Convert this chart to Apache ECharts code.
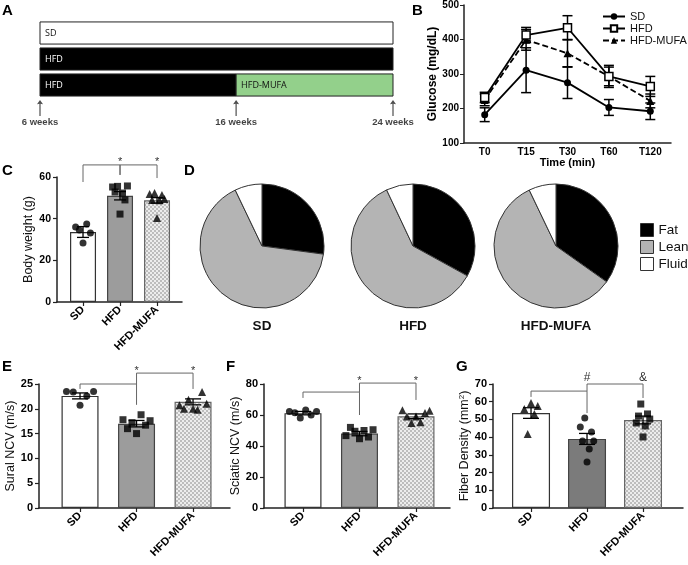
<!DOCTYPE html>
<html><head><meta charset="utf-8">
<script src="https://cdn.jsdelivr.net/npm/echarts@6/dist/echarts.min.js"></script>
<style>html,body{margin:0;padding:0;background:#fff}#c{width:688px;height:565px}</style>
</head><body><div id="c"></div>
<script>
// ---------- DATA ----------
// Panel A: diet timeline
const timelineRows = [' ', 'HFD-MUFA', 'HFD', 'SD'];
const timelineSegments = [ // [row, fromWeek, toWeek, diet]
  ['SD', 6, 24, 'SD'],
  ['HFD', 6, 24, 'HFD'],
  ['HFD-MUFA', 6, 16, 'HFD'],
  ['HFD-MUFA', 16, 24, 'HFD-MUFA']
];
const weekMarks = [6, 16, 24];
const weekLabels = ['6 weeks', '16 weeks', '24 weeks'];

// Panel B: glucose tolerance
const times = ['T0', 'T15', 'T30', 'T60', 'T120'];
const glucoseSD = [182, 311, 275, 203, 192];
const glucoseSDErr = [20, 65, 46, 23, 24];
const glucoseHFD = [232, 413, 434, 293, 264];
const glucoseHFDErr = [15, 22, 35, 32, 29];
const glucoseMUFA = [225, 399, 360, 293, 222];
const glucoseMUFAErr = [17, 30, 40, 27, 20];

const groups = ['SD', 'HFD', 'HFD-MUFA'];

// Panel C: body weight
const bwMean = [33.6, 51.0, 48.8];
const bwSem = [2.6, 2.0, 1.3];
const bwSD = [36, 34.6, 28.3, 37.4, 33.1];
const bwHFD = [55.2, 52.8, 55.5, 42.2, 52.3, 49, 55.7];
const bwMUFA = [51.8, 49, 52.3, 40.3, 48.8, 51.4, 49.5];

// Panel D: body composition (%)
const compLabels = ['Fat', 'Lean', 'Fluid'];
const compSD = [27.1, 65.8, 7.1];
const compHFD = [33.0, 60.0, 7.0];
const compMUFA = [34.8, 58.1, 7.1];

// Panel E: sural NCV
const suralMean = [22.6, 17.0, 21.4];
const suralSem = [0.6, 0.65, 0.6];
const suralSD = [23.5, 23.4, 20.7, 22.6, 23.5];
const suralHFD = [17.8, 16.0, 17.2, 15.0, 18.8, 16.7, 17.6];
const suralMUFA = [20.7, 20.0, 21.8, 20.0, 19.8, 23.4, 21.0];

// Panel F: sciatic NCV
const sciaticMean = [61.2, 48.0, 59.2];
const sciaticSem = [1.1, 1.4, 1.5];
const sciaticSD = [62.3, 61.5, 58.0, 63.3, 60.0, 62.3];
const sciaticHFD = [46.7, 52, 49.5, 44.7, 50, 45.8, 50.5];
const sciaticMUFA = [63, 59.1, 54.8, 59, 55.3, 61.3, 62.8];

// Panel G: fiber density
const fiberMean = [53.6, 39.0, 49.7];
const fiberSem = [3.0, 3.1, 2.2];
const fiberSD = [55.9, 41.8, 59.3, 53.1, 57.6];
const fiberHFD = [45.7, 37.8, 50.8, 26, 33.3, 42.9, 37.8];
const fiberMUFA = [48, 51.9, 58.7, 40.1, 46.3, 53.1, 50.2];

// Significance brackets: [fromGroup, toGroup, level, leftEnd, rightEnd]
const sigC = [[0, 1, 65.8, 57.6, 61], [1, 2, 65.8, 61, 59.5]];
const sigCMarks = [[1, 65.8, '*'], [2, 65.8, '*']];
const sigE = [[0, 1, 25.0, 24.0, 20.8], [1, 2, 27.2, 25.0, 24.0]];
const sigEMarks = [[1, 27.2, '*'], [2, 27.2, '*']];
const sigF = [[0, 1, 74.8, 71, 60], [1, 2, 80.6, 74.8, 69.7]];
const sigFMarks = [[1, 80.6, '*'], [2, 80.6, '*']];
const sigG = [[0, 1, 66, 62.7, 53.6], [1, 2, 70, 66, 62.1]];
const sigGMarks = [[1, 70, '#'], [2, 70, '&']];

// ---------- STYLE ----------
const FONT = '"Liberation Sans", Arial, sans-serif';
const AX = '#222';
const pc = document.createElement('canvas'); pc.width = 4; pc.height = 4;
const pg = pc.getContext('2d');
pg.fillStyle = '#ededed'; pg.fillRect(0, 0, 4, 4);
pg.fillStyle = '#bdbdbd'; pg.fillRect(0, 0, 2, 2); pg.fillRect(2, 2, 2, 2);
const checker = { image: pc, repeat: 'repeat' };
const dietFill = { 'SD': '#ffffff', 'HFD': '#000000', 'HFD-MUFA': '#93d08b' };
const dietText = { 'SD': '#111', 'HFD': '#fff', 'HFD-MUFA': '#111' };

// ---------- HELPERS ----------
function renderTimeline(params, api) {
  const row = api.value(0);
  const p1 = api.coord([api.value(1), row]);
  const p2 = api.coord([api.value(2), row]);
  const h = api.size([0, 1])[1] * 0.85;
  const diet = timelineSegments[params.dataIndex][3];
  return {
    type: 'group', children: [
      { type: 'rect', shape: { x: p1[0], y: p1[1] - h / 2, width: p2[0] - p1[0], height: h },
        style: { fill: dietFill[diet], stroke: '#222', lineWidth: 1 } },
      { type: 'text', style: { text: diet, x: p1[0] + 5, y: p1[1], verticalAlign: 'middle', align: 'left',
        fill: dietText[diet], font: '9px "Open Sans", sans-serif' } }
    ]
  };
}
function errRender(cap, lw) {
  return function (params, api) {
    const x = api.value(0);
    const a = api.coord([x, api.value(1)]);
    const b = api.coord([x, api.value(2)]);
    const st = { stroke: '#000', lineWidth: lw };
    return { type: 'group', children: [
      { type: 'line', shape: { x1: a[0], y1: a[1], x2: b[0], y2: b[1] }, style: st },
      { type: 'line', shape: { x1: a[0] - cap, y1: a[1], x2: a[0] + cap, y2: a[1] }, style: st },
      { type: 'line', shape: { x1: b[0] - cap, y1: b[1], x2: b[0] + cap, y2: b[1] }, style: st }
    ] };
  };
}
function bracketRender(params, api) {
  const x1 = api.value(0), x2 = api.value(1), lv = api.value(2);
  const p1 = api.coord([x1, lv]), p2 = api.coord([x2, lv]);
  const e1 = api.coord([x1, api.value(3)]), e2 = api.coord([x2, api.value(4)]);
  return { type: 'polyline', shape: { points: [e1, p1, p2, e2] },
    style: { stroke: '#666', lineWidth: 1, fill: null } };
}
function markRender(params, api) {
  const p = api.coord([api.value(0), api.value(1)]);
  const txt = api.value(2);
  const star = txt === '*';
  return { type: 'text', style: { text: txt, x: p[0], y: p[1] + (star ? 3 : 0), align: 'center', verticalAlign: 'bottom',
    fill: '#333', font: (star ? '11px ' : '12px ') + FONT } };
}
function jitter(vals, gi, spread) {
  const n = vals.length;
  return vals.map((v, j) => [gi + (n > 1 ? -spread + 2 * spread * j / (n - 1) : 0), v]);
}
function barX(gi, min, max) {
  return { gridIndex: gi, type: 'value', min: min, max: max,
    axisLine: { show: true, onZero: false, lineStyle: { color: AX, width: 1.5 } },
    axisTick: { show: true, customValues: [0, 1, 2], length: 4, lineStyle: { color: AX, width: 1.2 } },
    axisLabel: { customValues: [0, 1, 2], formatter: v => groups[Math.round(v)], rotate: 45, margin: 6,
      fontWeight: 'bold', fontSize: 11, color: '#000', fontFamily: FONT },
    splitLine: { show: false } };
}
function barY(gi, max, interval, name, gap, fs) {
  return { gridIndex: gi, type: 'value', min: 0, max: max, interval: interval,
    name: name, nameLocation: 'middle', nameGap: gap,
    nameTextStyle: { fontSize: 12.5, fontFamily: FONT, color: '#111',
      rich: { sup: { fontSize: 8, fontFamily: FONT, color: '#111', verticalAlign: 'top', padding: [0, 0, 5, 0] } } },
    axisLine: { show: true, onZero: false, lineStyle: { color: AX, width: 1.5 } },
    axisTick: { show: true, length: 4, lineStyle: { color: AX, width: 1.2 } },
    axisLabel: { fontWeight: 'bold', fontSize: fs, color: '#000', fontFamily: FONT, margin: 6 },
    splitLine: { show: false } };
}
function barPanel(gi, means, sem, sd, hfd, mufa, hfdColor, bw, cap, spread, sig, marks, sym) {
  const styles = [
    { color: '#fff', borderColor: '#333', borderWidth: 1.2 },
    { color: hfdColor, borderColor: '#444', borderWidth: 1.2 },
    { color: checker, borderColor: '#666', borderWidth: 1.2 }
  ];
  const ser = [];
  ser.push({ type: 'bar', name: 'bar' + gi, xAxisIndex: gi, yAxisIndex: gi, barWidth: bw, z: 2,
    data: means.map((m, i) => ({ value: [i, m], itemStyle: styles[i] })), silent: true });
  const pts = [sd, hfd, mufa];
  pts.forEach((vals, i) => {
    ser.push({ type: 'scatter', name: 'pts' + gi + '_' + i, xAxisIndex: gi, yAxisIndex: gi, z: 3,
      symbol: sym[i][0], symbolSize: sym[i][1], itemStyle: { color: '#000' },
      data: jitter(vals, i, spread) });
  });
  ser.push({ type: 'custom', name: 'err' + gi, xAxisIndex: gi, yAxisIndex: gi, z: 4,
    renderItem: errRender(cap, 1.3), data: means.map((m, i) => [i, m - sem[i], m + sem[i]]) });
  ser.push({ type: 'custom', name: 'sig' + gi, xAxisIndex: gi, yAxisIndex: gi, z: 4, clip: false,
    renderItem: bracketRender, data: sig });
  ser.push({ type: 'custom', name: 'mk' + gi, xAxisIndex: gi, yAxisIndex: gi, z: 4, clip: false,
    renderItem: markRender, data: marks });
  return ser;
}
function pieSeries(name, cx, vals) {
  const colors = ['#000000', '#b4b4b4', '#ffffff'];
  return { type: 'pie', name: name, center: [cx, 246], radius: 62, startAngle: 90, clockwise: true,
    label: { show: false }, labelLine: { show: false }, silent: true,
    itemStyle: { borderColor: '#333', borderWidth: 1 },
    data: compLabels.map((l, i) => ({ name: l, value: vals[i], itemStyle: { color: colors[i] } })) };
}
function errData(vals, errs) { return vals.map((v, i) => [i, v - errs[i], v + errs[i]]); }

// ---------- OPTION ----------
const letters = [['A', 2, 3], ['B', 412, 3], ['C', 2, 163], ['D', 184, 163], ['E', 2, 359], ['F', 226, 359], ['G', 456, 359]];
const titles = letters.map(l => ({ text: l[0], left: l[1], top: l[2], padding: 0,
  textStyle: { fontSize: 15, fontWeight: 'bold', fontFamily: FONT, color: '#000' } }));
[['SD', 262], ['HFD', 413], ['HFD-MUFA', 556]].forEach(p => titles.push({ text: p[0], left: p[1], top: 319,
  textAlign: 'center', padding: 0, textStyle: { fontSize: 13.5, fontWeight: 'bold', fontFamily: FONT, color: '#111' } }));

const sym = [['circle', 7], ['rect', 7], ['triangle', 8]];
const symG = [['triangle', 8], ['circle', 7], ['rect', 7]];

const option = {
  backgroundColor: '#fff',
  animation: false,
  title: titles,
  grid: [
    { left: 40, top: 20, width: 353, height: 104 },
    { left: 464, top: 5, width: 207, height: 138 },
    { left: 57, top: 177, width: 125, height: 125 },
    { left: 39, top: 384, width: 191, height: 124 },
    { left: 264, top: 384, width: 186, height: 124 },
    { left: 493, top: 384, width: 190, height: 124 }
  ],
  legend: [
    { data: ['SD', 'HFD', 'HFD-MUFA'], orient: 'vertical', left: 597, top: 6, itemWidth: 22, itemHeight: 8, itemGap: 1,
      textStyle: { fontSize: 11, fontFamily: FONT, color: '#111' } },
    { data: compLabels, orient: 'vertical', left: 635, top: 218, itemWidth: 13, itemHeight: 13, itemGap: 3, icon: 'rect',
      itemStyle: { borderColor: '#333', borderWidth: 1 },
      textStyle: { fontSize: 13.5, fontFamily: FONT, color: '#111' } }
  ],
  xAxis: [
    { gridIndex: 0, type: 'value', min: 6, max: 24, show: false },
    { gridIndex: 1, type: 'category', data: times, boundaryGap: true,
      name: 'Time (min)', nameLocation: 'middle', nameGap: 14,
      nameTextStyle: { fontSize: 11, fontWeight: 'bold', fontFamily: FONT, color: '#000' },
      axisLine: { lineStyle: { color: AX, width: 1.5 } },
      axisTick: { alignWithLabel: true, length: 4, lineStyle: { color: AX } },
      axisLabel: { fontSize: 10, fontWeight: 'bold', fontFamily: FONT, color: '#000', margin: 4 } },
    barX(2, -0.703, 2.675),
    barX(3, -0.726, 2.654),
    barX(4, -0.69, 2.602),
    barX(5, -0.679, 2.714)
  ],
  yAxis: [
    { gridIndex: 0, type: 'category', data: timelineRows, show: false },
    { gridIndex: 1, type: 'value', min: 100, max: 500, interval: 100,
      name: 'Glucose (mg/dL)', nameLocation: 'middle', nameGap: 25,
      nameTextStyle: { fontSize: 12, fontWeight: 'bold', fontFamily: FONT, color: '#000' },
      axisLine: { show: true, lineStyle: { color: AX, width: 1.5 } },
      axisTick: { show: true, length: 4, lineStyle: { color: AX } },
      axisLabel: { fontSize: 10, fontWeight: 'bold', fontFamily: FONT, color: '#000', margin: 5 },
      splitLine: { show: false } },
    barY(2, 60, 20, 'Body weight (g)', 21, 10.5),
    barY(3, 25, 5, 'Sural NCV (m/s)', 15, 11),
    barY(4, 80, 20, 'Sciatic NCV (m/s)', 17, 11),
    barY(5, 70, 10, 'Fiber Density (mm{sup|2})', 17, 11)
  ],
  series: [
    { type: 'custom', name: 'timeline', xAxisIndex: 0, yAxisIndex: 0, renderItem: renderTimeline,
      encode: { x: [1, 2], y: 0 }, data: timelineSegments.map(s => [s[0], s[1], s[2]]) },
    { type: 'scatter', name: 'weeks', xAxisIndex: 0, yAxisIndex: 0,
      symbol: 'path://M4.5,0 L9,8 L5.4,7 L5.4,30 L3.6,30 L3.6,7 L0,8 Z', symbolSize: [6, 16], symbolOffset: [0, -3],
      itemStyle: { color: '#222' },
      label: { show: true, position: 'bottom', distance: 1, formatter: p => weekLabels[p.dataIndex],
        fontSize: 9.5, fontWeight: 'bold', fontFamily: FONT, color: '#111' },
      data: weekMarks.map(w => [w, ' ']) },

    { type: 'line', name: 'SD', xAxisIndex: 1, yAxisIndex: 1, data: glucoseSD, symbol: 'circle', symbolSize: 7,
      lineStyle: { color: '#000', width: 1.8 }, itemStyle: { color: '#000' }, z: 3 },
    { type: 'line', name: 'HFD', xAxisIndex: 1, yAxisIndex: 1, data: glucoseHFD, symbol: 'rect', symbolSize: 8,
      lineStyle: { color: '#000', width: 1.8 }, itemStyle: { color: '#fff', borderColor: '#000', borderWidth: 1.5 }, z: 4 },
    { type: 'line', name: 'HFD-MUFA', xAxisIndex: 1, yAxisIndex: 1, data: glucoseMUFA, symbol: 'triangle', symbolSize: 8,
      lineStyle: { color: '#000', width: 1.8, type: [6, 3] }, itemStyle: { color: '#000' }, z: 3 },
    { type: 'custom', name: 'eSD', xAxisIndex: 1, yAxisIndex: 1, renderItem: errRender(5, 1.5), data: errData(glucoseSD, glucoseSDErr), z: 2 },
    { type: 'custom', name: 'eHFD', xAxisIndex: 1, yAxisIndex: 1, renderItem: errRender(5, 1.5), data: errData(glucoseHFD, glucoseHFDErr), z: 2 },
    { type: 'custom', name: 'eMUFA', xAxisIndex: 1, yAxisIndex: 1, renderItem: errRender(5, 1.5), data: errData(glucoseMUFA, glucoseMUFAErr), z: 2 },

    pieSeries('pSD', 262, compSD),
    pieSeries('pHFD', 413, compHFD),
    pieSeries('pMUFA', 556, compMUFA)
  ]
    .concat(barPanel(2, bwMean, bwSem, bwSD, bwHFD, bwMUFA, '#9c9c9c', 26, 6, 0.2, sigC, sigCMarks, sym))
    .concat(barPanel(3, suralMean, suralSem, suralSD, suralHFD, suralMUFA, '#9c9c9c', 37, 8, 0.24, sigE, sigEMarks, sym))
    .concat(barPanel(4, sciaticMean, sciaticSem, sciaticSD, sciaticHFD, sciaticMUFA, '#9c9c9c', 37, 8, 0.24, sigF, sigFMarks, sym))
    .concat(barPanel(5, fiberMean, fiberSem, fiberSD, fiberHFD, fiberMUFA, '#7b7b7b', 38, 8, 0.12, sigG, sigGMarks, symG))
};
const chart = echarts.init(document.getElementById('c'));
chart.setOption(option);
</script>
</body></html>
